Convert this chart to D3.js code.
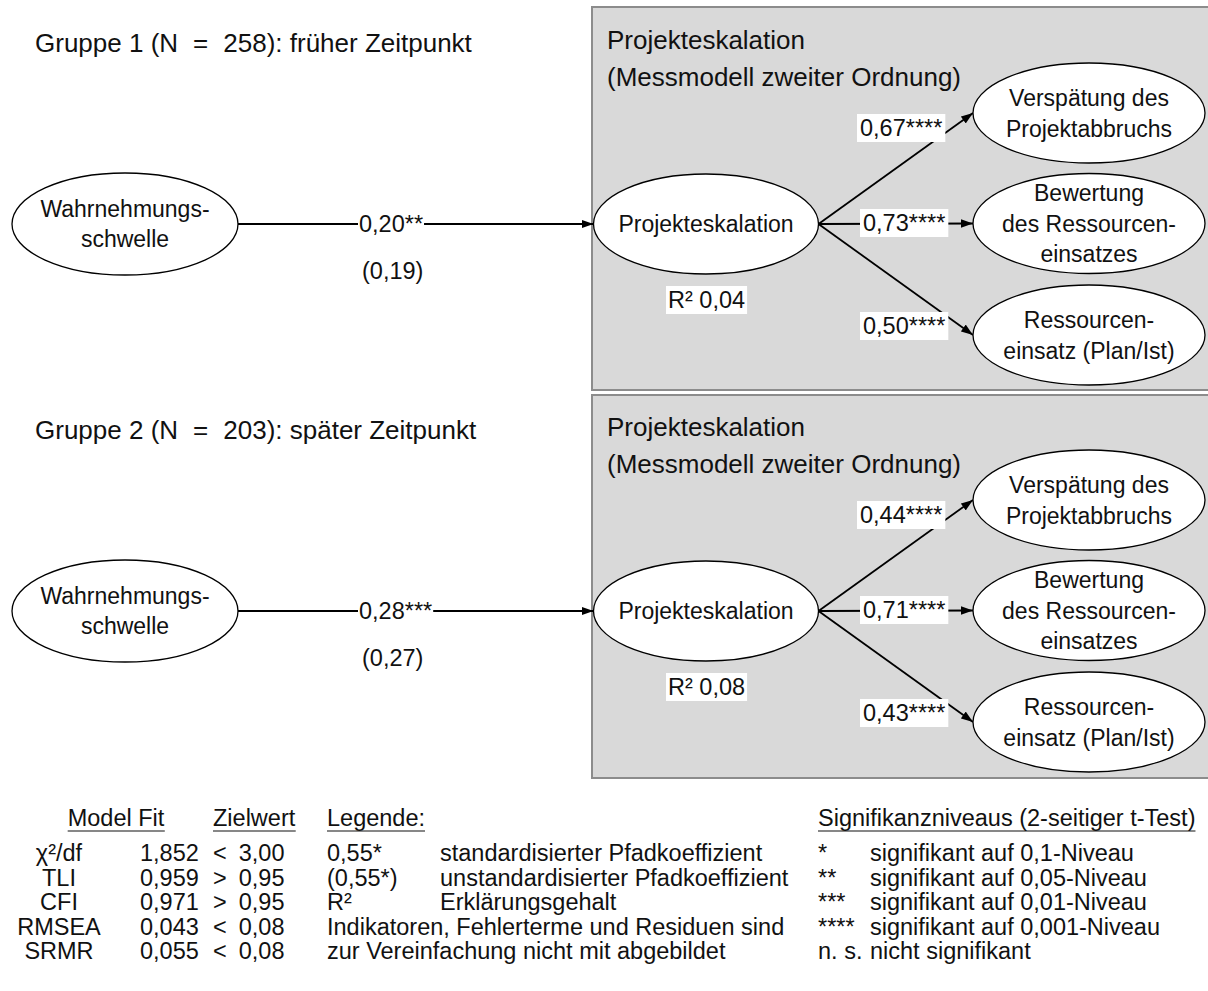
<!DOCTYPE html>
<html><head><meta charset="utf-8">
<script src="https://cdn.jsdelivr.net/npm/d3@7"></script>
<style>
html,body{margin:0;padding:0;background:#fff;}
svg text{font-family:"Liberation Sans",Arial,sans-serif;fill:#111;}
</style></head>
<body>
<svg id="chart" width="1208" height="991"></svg>
<script>
// ---------- data ----------
const groupTitles = ["Gruppe 1 (N = 258): früher Zeitpunkt", "Gruppe 2 (N = 203): später Zeitpunkt"];
const exogenousName = ["Wahrnehmungs-", "schwelle"];
const endogenousName = ["Projekteskalation"];
const boxTitle = ["Projekteskalation", "(Messmodell zweiter Ordnung)"];
const structCoef = ["0,20**", "0,28***"];
const structCoefUnstd = ["(0,19)", "(0,27)"];
const rSquared = ["0,04", "0,08"];
const indicatorNames = [["Verspätung des", "Projektabbruchs"], ["Bewertung", "des Ressourcen-", "einsatzes"], ["Ressourcen-", "einsatz (Plan/Ist)"]];
const loadings = [["0,67****", "0,73****", "0,50****"], ["0,44****", "0,71****", "0,43****"]];

const fitHeaders = ["Model Fit", "Zielwert", "Legende:", "Signifikanzniveaus (2-seitiger t-Test)"];
const fitNames = ["χ²/df", "TLI", "CFI", "RMSEA", "SRMR"];
const fitValues = ["1,852", "0,959", "0,971", "0,043", "0,055"];
const fitOps = ["<", ">", ">", "<", "<"];
const fitTargets = ["3,00", "0,95", "0,95", "0,08", "0,08"];
const legendSymbols = ["0,55*", "(0,55*)", "R²", "", ""];
const legendTexts = ["standardisierter Pfadkoeffizient", "unstandardisierter Pfadkoeffizient", "Erklärungsgehalt",
  "Indikatoren, Fehlerterme und Residuen sind", "zur Vereinfachung nicht mit abgebildet"];
const sigSymbols = ["*", "**", "***", "****", "n. s."];
const sigTexts = ["signifikant auf 0,1-Niveau", "signifikant auf 0,05-Niveau", "signifikant auf 0,01-Niveau",
  "signifikant auf 0,001-Niveau", "nicht signifikant"];

// ---------- layout ----------
const svg = d3.select("#chart");
const groupY = d3.scaleOrdinal().domain([0, 1]).range([0, 387]);
const indY = d3.scaleOrdinal().domain([0, 1, 2]).range([113, 223.5, 335]);
const rowY = d3.scaleLinear().domain([0, 4]).range([861, 959]);

const defs = svg.append("defs");
defs.append("marker").attr("id", "arr").attr("viewBox", "0 0 12 10")
  .attr("refX", 12).attr("refY", 5).attr("markerWidth", 12).attr("markerHeight", 10)
  .attr("markerUnits", "userSpaceOnUse").attr("orient", "auto")
  .append("path").attr("d", "M0,0.8 L12,5 L0,9.2 Z").attr("fill", "#000");

const FS_T = 26, FS_N = 23, FS_L = 23.5, FS_B = 23.5;

function multiText(g, lines, cx, cy, fs, lh) {
  const t = g.append("text").attr("text-anchor", "middle").attr("font-size", fs);
  const n = lines.length;
  lines.forEach((l, i) => {
    t.append("tspan").attr("x", cx).attr("y", cy + (i - (n - 1) / 2) * lh + fs * 0.36).text(l);
  });
  return t;
}
function bgText(g, txt, x, y, fs, anchor, pad) {
  const rect = g.append("rect").attr("fill", "#fff");
  const t = g.append("text").attr("x", x).attr("y", y).attr("font-size", fs)
    .attr("text-anchor", anchor || "start").text(txt);
  const bb = t.node().getBBox();
  rect.attr("x", bb.x - pad).attr("y", bb.y - 1).attr("width", bb.width + 2 * pad).attr("height", bb.height + 2);
  return t;
}

[0, 1].forEach(gi => {
  const dy = groupY(gi);
  const g = svg.append("g").attr("transform", `translate(0,${dy})`);

  // group title
  const parts = groupTitles[gi].split(" = ");
  const tt = g.append("text").attr("x", 35).attr("y", 52).attr("font-size", FS_T);
  tt.append("tspan").text(parts[0]);
  tt.append("tspan").attr("dx", 15).text("=");
  tt.append("tspan").attr("dx", 15).text(parts[1]);

  // grey box
  g.append("rect").attr("x", 592).attr("y", gi === 0 ? 7 : 8).attr("width", 640).attr("height", 383)
    .attr("fill", "#d9d9d9").attr("stroke", "#8c8c8c").attr("stroke-width", 2);
  boxTitle.forEach((l, i) => g.append("text").attr("x", 607).attr("y", 49 + i * 37)
    .attr("font-size", FS_T).text(l));

  const ex = {cx: 125, cy: 224, rx: 113, ry: 51};
  const en = {cx: 706, cy: 224, rx: 112.5, ry: 50};
  const ind = {cx: 1089, rx: 116, ry: 50};

  // structural path
  g.append("line").attr("x1", ex.cx + ex.rx).attr("y1", ex.cy).attr("x2", en.cx - en.rx).attr("y2", en.cy)
    .attr("stroke", "#000").attr("stroke-width", 1.8).attr("marker-end", "url(#arr)");
  bgText(g, structCoef[gi], 359, 232, FS_L, "start", 1);
  g.append("text").attr("x", 362).attr("y", 279).attr("font-size", FS_L).text(structCoefUnstd[gi]);

  // loading paths
  indicatorNames.forEach((nm, k) => {
    g.append("line").attr("x1", en.cx + en.rx).attr("y1", en.cy)
      .attr("x2", ind.cx - ind.rx).attr("y2", indY(k))
      .attr("stroke", "#000").attr("stroke-width", 1.8).attr("marker-end", "url(#arr)");
  });

  g.append("ellipse").attr("cx", ex.cx).attr("cy", ex.cy).attr("rx", ex.rx).attr("ry", ex.ry)
    .attr("fill", "#fff").attr("stroke", "#000").attr("stroke-width", 1.3);
  multiText(g, exogenousName, ex.cx, ex.cy, FS_N, 30);

  g.append("ellipse").attr("cx", en.cx).attr("cy", en.cy).attr("rx", en.rx).attr("ry", en.ry)
    .attr("fill", "#fff").attr("stroke", "#000").attr("stroke-width", 1.3);
  multiText(g, endogenousName, en.cx, en.cy, FS_N, 30);

  indicatorNames.forEach((nm, k) => {
    g.append("ellipse").attr("cx", ind.cx).attr("cy", indY(k)).attr("rx", ind.rx).attr("ry", ind.ry)
      .attr("fill", "#fff").attr("stroke", "#000").attr("stroke-width", 1.3);
    multiText(g, nm, ind.cx, indY(k), FS_N, 30.5);
  });

  // loading labels
  const labPos = [[860, 136], [863, 231], [863, 334]];
  loadings[gi].forEach((v, k) => bgText(g, v, labPos[k][0], labPos[k][1], FS_L, "start", 3));

  // R squared
  bgText(g, "R² " + rSquared[gi], 668, 308, FS_L, "start", 2);
});

// ---------- bottom table ----------
const tb = svg.append("g");
const hdr = [{x: 116, a: "middle"}, {x: 213, a: "start"}, {x: 327, a: "start"}, {x: 818, a: "start"}];
fitHeaders.forEach((h, i) => {
  const t = tb.append("text").attr("x", hdr[i].x).attr("y", 826).attr("font-size", FS_B)
    .attr("text-anchor", hdr[i].a).text(h);
  const bb = t.node().getBBox();
  tb.append("line").attr("x1", bb.x).attr("x2", bb.x + bb.width).attr("y1", 831).attr("y2", 831)
    .attr("stroke", "#111").attr("stroke-width", 1.2);
});
fitNames.forEach((d, i) => {
  const y = rowY(i);
  tb.append("text").attr("x", 59).attr("y", y).attr("font-size", FS_B).attr("text-anchor", "middle").text(d);
  tb.append("text").attr("x", 140).attr("y", y).attr("font-size", FS_B).text(fitValues[i]);
  const tt = tb.append("text").attr("x", 213).attr("y", y).attr("font-size", FS_B);
  tt.append("tspan").text(fitOps[i]);
  tt.append("tspan").attr("dx", 12).text(fitTargets[i]);
  if (legendSymbols[i]) {
    tb.append("text").attr("x", 327).attr("y", y).attr("font-size", FS_B).text(legendSymbols[i]);
    tb.append("text").attr("x", 440).attr("y", y).attr("font-size", FS_B).text(legendTexts[i]);
  } else {
    tb.append("text").attr("x", 327).attr("y", y).attr("font-size", FS_B).text(legendTexts[i]);
  }
  tb.append("text").attr("x", 818).attr("y", y).attr("font-size", FS_B).text(sigSymbols[i]);
  tb.append("text").attr("x", 870).attr("y", y).attr("font-size", FS_B).text(sigTexts[i]);
});
</script>
</body></html>
